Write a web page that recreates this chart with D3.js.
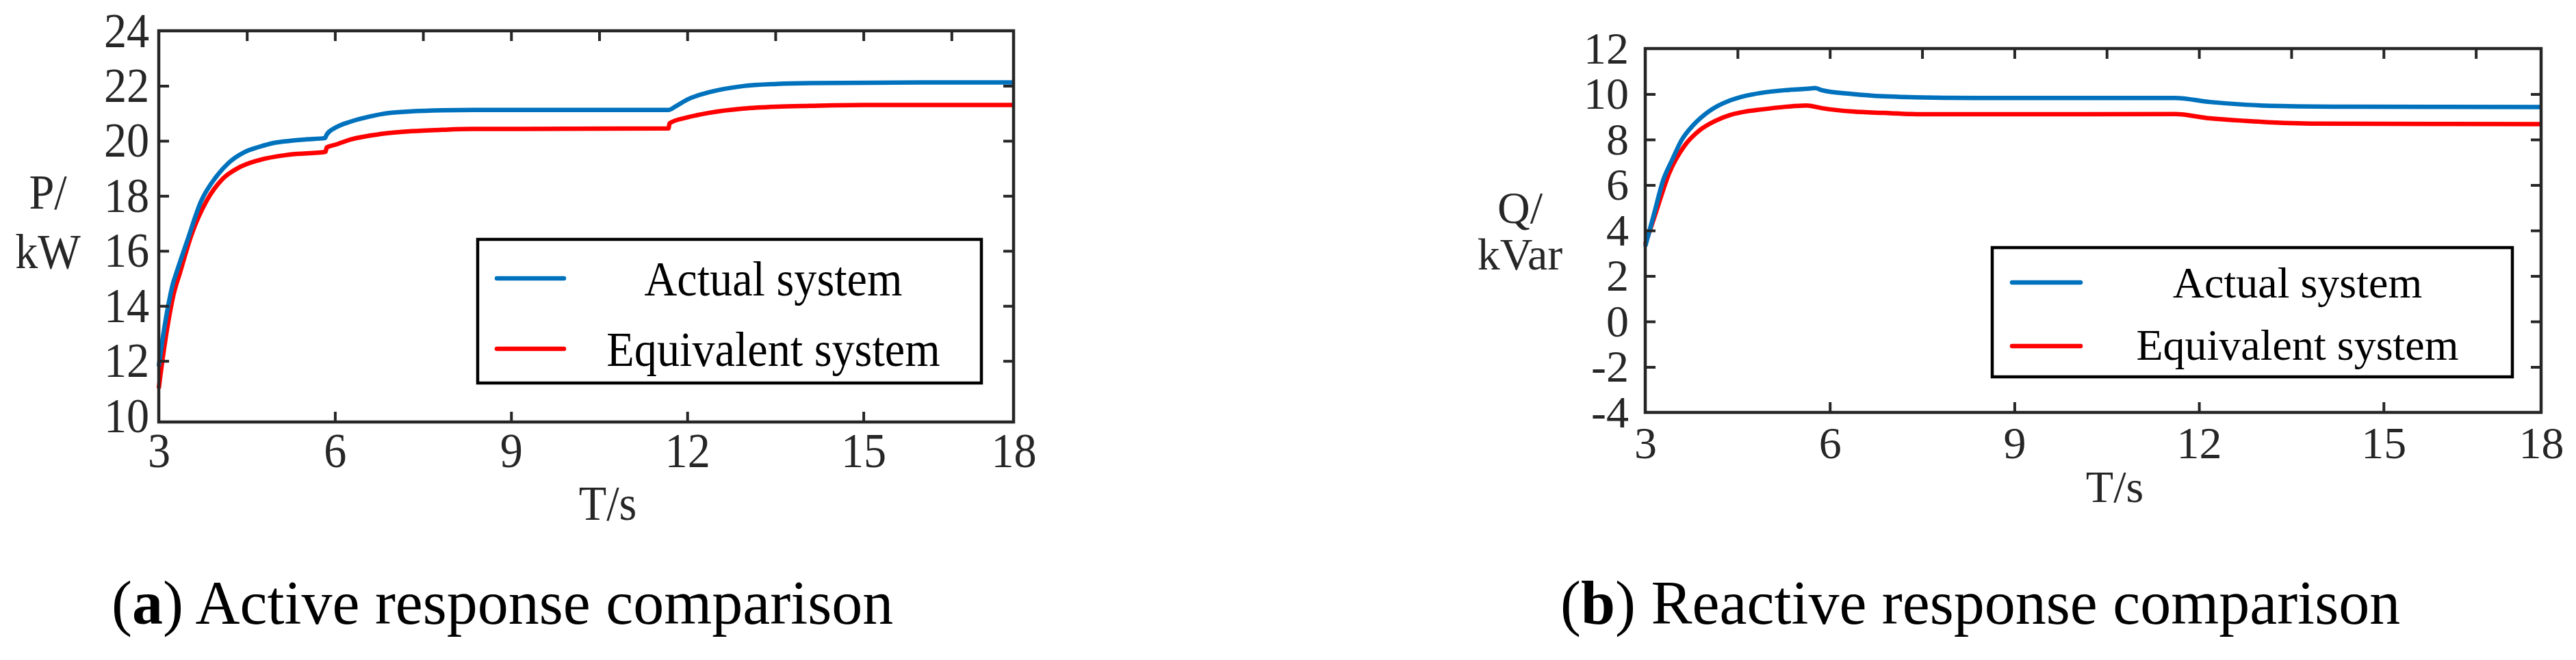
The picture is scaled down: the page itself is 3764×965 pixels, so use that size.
<!DOCTYPE html>
<html><head><meta charset="utf-8">
<script src="https://cdn.jsdelivr.net/npm/d3@7/dist/d3.min.js"></script>
<style>body{margin:0;background:#fff}svg{display:block}</style>
</head><body>
<svg id="c" width="3764" height="965"></svg>
<script>
// ---------- data ----------
const xTickLabels = [3, 6, 9, 12, 15, 18];
const xTopTicks = [4.5, 6, 7.5, 9, 10.5, 12, 13.5, 15, 16.5];
const pTicks = [10, 12, 14, 16, 18, 20, 22, 24];
const qTicks = [-4, -2, 0, 2, 4, 6, 8, 10, 12];
const seriesNames = ["Actual system", "Equivalent system"];
const seriesColors = ["#0072BD", "#FF0000"];
const captions = [["a", " Active response comparison"], ["b", " Reactive response comparison"]];

// Active power P (kW) vs time T (s)
const pActual = [[3.00,11.8],[3.08,13.0],[3.16,14.0],[3.24,14.8],[3.30,15.2],[3.49,16.4],[3.72,17.8],[3.98,18.7],[4.19,19.2],[4.45,19.58],[4.71,19.78],[4.97,19.93],[5.23,20.0],[5.49,20.05],[5.83,20.1],[5.86,20.23],[6.01,20.48],[6.27,20.7],[6.53,20.85],[6.79,20.97],[7.31,21.07],[7.83,21.11],[8.35,21.12],[10.0,21.12],[11.68,21.12],[11.80,21.25],[12.0,21.5],[12.38,21.77],[12.95,21.99],[13.52,22.07],[14.1,22.1],[16.0,22.12],[18.0,22.12]];
const pEquivalent = [[3.00,11.0],[3.08,12.3],[3.16,13.4],[3.25,14.4],[3.36,15.2],[3.56,16.6],[3.82,17.84],[4.08,18.6],[4.34,19.0],[4.71,19.3],[5.23,19.5],[5.84,19.6],[5.86,19.76],[6.01,19.86],[6.27,20.05],[6.79,20.25],[7.31,20.35],[7.83,20.4],[8.35,20.43],[11.68,20.45],[11.70,20.64],[12.0,20.85],[12.38,21.02],[12.95,21.17],[13.52,21.24],[14.1,21.27],[15.0,21.3],[18.0,21.3]];
// Reactive power Q (kVar) vs time T (s)
const qActual = [[3.00,3.3],[3.15,4.8],[3.29,6.2],[3.44,7.12],[3.59,7.97],[3.79,8.66],[4.03,9.23],[4.38,9.72],[4.63,9.92],[4.88,10.05],[5.28,10.17],[5.62,10.23],[5.76,10.26],[5.87,10.17],[6.37,10.0],[6.87,9.9],[7.36,9.86],[8.35,9.83],[11.61,9.83],[12.18,9.65],[12.76,9.53],[13.33,9.47],[14.5,9.44],[18.0,9.43]];
const qEquivalent = [[3.00,3.4],[3.15,4.6],[3.39,6.53],[3.64,7.73],[3.89,8.42],[4.13,8.81],[4.38,9.08],[4.63,9.23],[4.88,9.32],[5.28,9.44],[5.62,9.5],[5.87,9.38],[6.37,9.23],[6.87,9.17],[7.6,9.11],[11.61,9.12],[12.18,8.93],[12.76,8.82],[13.9,8.7],[18.0,8.68]];

// ---------- drawing ----------
const svg = d3.select("#c");
svg.append("rect").attr("width", 3764).attr("height", 965).attr("fill", "#fff");
const FONT = "'Liberation Serif','Times New Roman',serif";
const AX = "#262626";

function drawPanel(cfg) {
  const g = svg.append("g");
  const x = d3.scaleLinear().domain([3, 16.5, 18])
    .range([cfg.left, cfg.left + 13.5 * cfg.unit, cfg.right]);
  const y = d3.scaleLinear().domain(cfg.yDomain).range([cfg.bottom, cfg.top]);

  const styleAxis = (sel, fs, hideEnds) => {
    sel.select(".domain").remove();
    sel.selectAll(".tick line").attr("stroke", AX).attr("stroke-width", 4);
    if (hideEnds) sel.selectAll(".tick").filter((d, i, n) => i === 0 || i === n.length - 1).select("line").remove();
    sel.selectAll(".tick text").attr("fill", AX).style("font-family", FONT)
      .style("font-size", fs + "px").attr("transform", `scale(${cfg.sx},1)`);
  };

  // series
  const line = d3.line().x(d => x(d[0])).y(d => y(d[1])).curve(d3.curveMonotoneX);
  [cfg.series[1], cfg.series[0]].forEach((s, i) => {
    g.append("path").datum(s).attr("d", line).attr("fill", "none")
      .attr("stroke", seriesColors[1 - i]).attr("stroke-width", 6.5)
      .attr("stroke-linejoin", "round");
  });

  // axes
  g.append("g").attr("transform", `translate(0,${cfg.bottom})`)
    .call(d3.axisBottom(x).tickValues(xTickLabels).tickSize(-15).tickPadding(cfg.xPad).tickFormat(d => String(d)))
    .call(s => styleAxis(s, cfg.fs, true));
  g.append("g").attr("transform", `translate(0,${cfg.top})`)
    .call(d3.axisTop(x).tickValues(xTopTicks).tickSize(-15).tickFormat(""))
    .call(s => styleAxis(s, cfg.fs, false));
  g.append("g").attr("transform", `translate(${cfg.left},0)`)
    .call(d3.axisLeft(y).tickValues(cfg.yTicks).tickSize(-15).tickPadding(cfg.yPad).tickFormat(d => String(d)))
    .call(s => styleAxis(s, cfg.fs, true));
  g.append("g").attr("transform", `translate(${cfg.right},0)`)
    .call(d3.axisRight(y).tickValues(cfg.yTicks).tickSize(-15).tickFormat(""))
    .call(s => styleAxis(s, cfg.fs, true));

  // frame
  g.append("rect").attr("x", cfg.left).attr("y", cfg.top)
    .attr("width", cfg.right - cfg.left).attr("height", cfg.bottom - cfg.top)
    .attr("fill", "none").attr("stroke", AX).attr("stroke-width", 4.5);

  const txt = (str, cx, by, fs, fill) => g.append("text")
    .attr("transform", `translate(${cx},${by}) scale(${cfg.sx},1)`)
    .attr("text-anchor", "middle").style("font-family", FONT).style("font-size", fs + "px")
    .attr("fill", fill || AX).text(str);

  // axis titles
  cfg.yLabel.forEach((s, i) => txt(s, cfg.yLabelX, cfg.yLabelY[i], cfg.fs));
  txt("T/s", cfg.xLabelX, cfg.xLabelY, cfg.fs);

  // legend
  const L = cfg.legend;
  g.append("rect").attr("x", L.x0).attr("y", L.y0).attr("width", L.x1 - L.x0).attr("height", L.y1 - L.y0)
    .attr("fill", "#fff").attr("stroke", "#000").attr("stroke-width", 4.5);
  seriesNames.forEach((n, i) => {
    g.append("line").attr("x1", L.lx0).attr("x2", L.lx1).attr("y1", L.ly[i]).attr("y2", L.ly[i])
      .attr("stroke", seriesColors[i]).attr("stroke-width", 6.5).attr("stroke-linecap", "round");
    txt(n, L.tx, L.ty[i], L.fs, "#000");
  });
}

drawPanel({
  left: 232, right: 1481, top: 45, bottom: 617, unit: 85.8,
  yDomain: [9.78, 24], yTicks: pTicks, fs: 72, sx: 0.92, yPad: 15, xPad: 15,
  series: [pActual, pEquivalent],
  yLabel: ["P/", "kW"], yLabelX: 70, yLabelY: [305, 392],
  xLabelX: 888, xLabelY: 760,
  legend: {x0: 698, y0: 350, x1: 1434, y1: 560, lx0: 726, lx1: 824, ly: [407, 510], tx: 1130, ty: [432, 535], fs: 72}
});
drawPanel({
  left: 2404, right: 3713, top: 71, bottom: 603, unit: 89.9,
  yDomain: [-4, 12], yTicks: qTicks, fs: 66, sx: 1.0, yPad: 24, xPad: 20,
  series: [qActual, qEquivalent],
  yLabel: ["Q/", "kVar"], yLabelX: 2221, yLabelY: [326, 394],
  xLabelX: 3090, xLabelY: 734,
  legend: {x0: 2911, y0: 362, x1: 3671, y1: 551, lx0: 2940, lx1: 3040, ly: [413, 506], tx: 3357, ty: [435, 526], fs: 64}
});

// captions
[[163, captions[0]], [2280, captions[1]]].forEach(([cx, c]) => {
  const t = svg.append("text").attr("x", cx).attr("y", 912)
    .style("font-family", FONT).style("font-size", "90px").attr("fill", "#000");
  t.append("tspan").text("(");
  t.append("tspan").attr("font-weight", "bold").text(c[0]);
  t.append("tspan").text(")" + c[1]);
});
</script>
</body></html>
